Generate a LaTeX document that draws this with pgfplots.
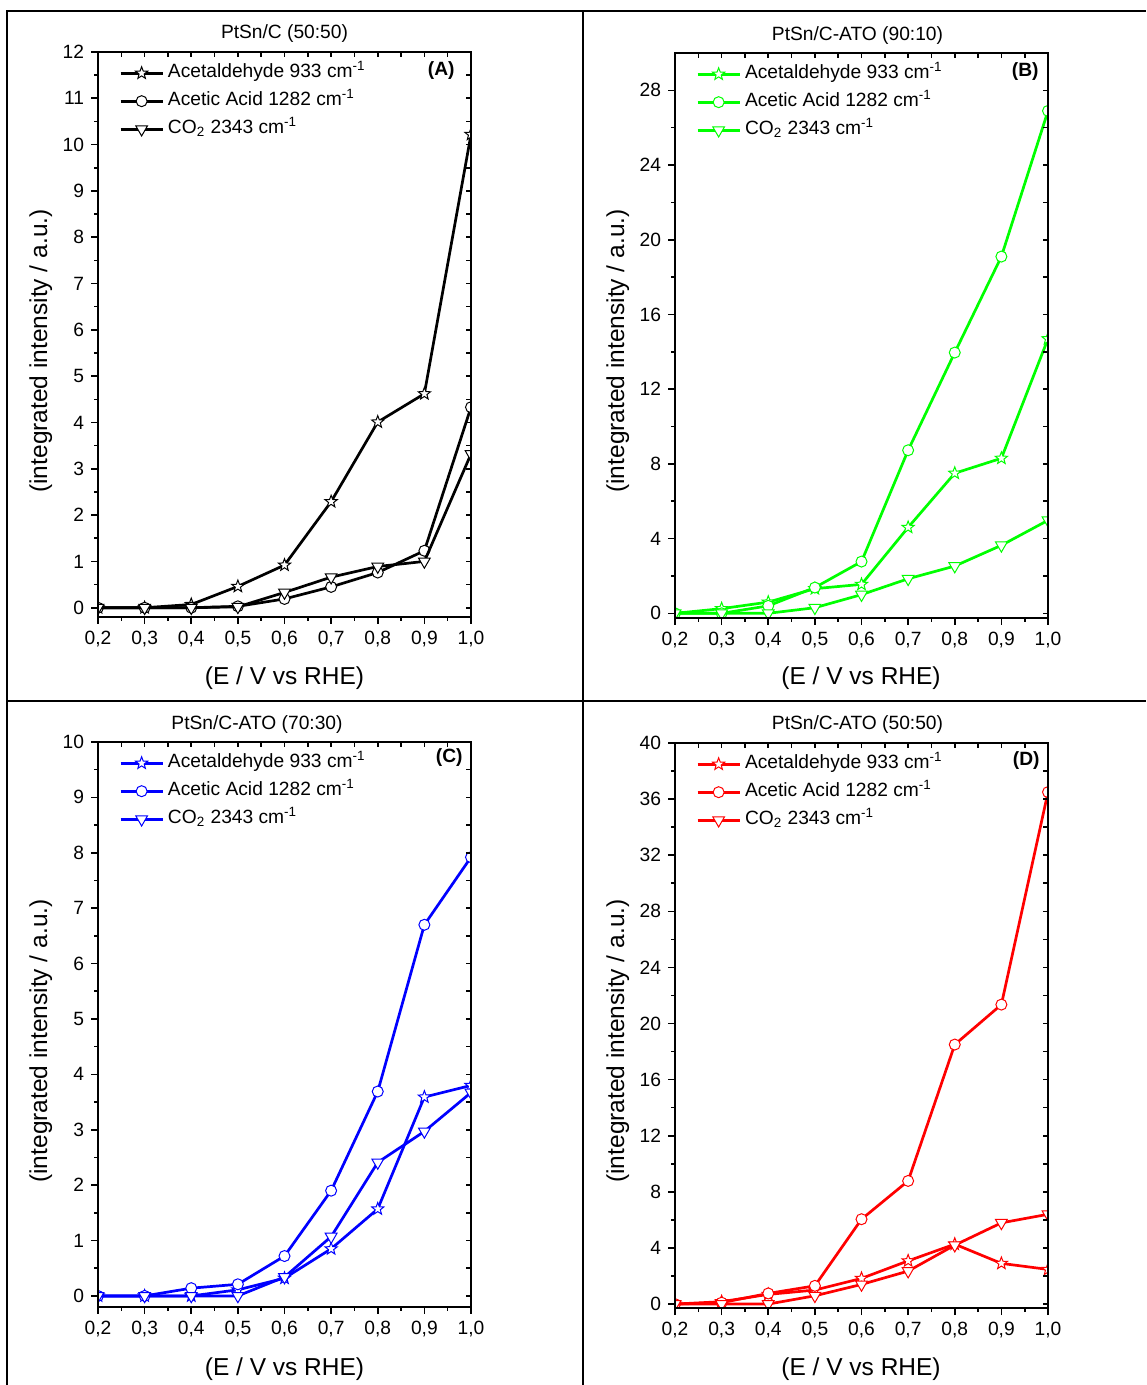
\documentclass[border=0pt]{standalone}
\usepackage{fontspec}
\setmainfont{Liberation Sans}
\usepackage{pgfplots}
\usepackage{pgfplotstable}
\pgfplotsset{compat=1.18}

\newcommand\fs{\fontsize{9.6pt}{11pt}\selectfont}
\newcommand\fl{\fontsize{12.25pt}{14pt}\selectfont}

% open five-point star
\pgfdeclareplotmark{ostar}{%
  \pgfpathmoveto{\pgfpointpolar{90}{\pgfplotmarksize}}%
  \pgfpathlineto{\pgfpointpolar{126}{0.42\pgfplotmarksize}}%
  \pgfpathlineto{\pgfpointpolar{162}{\pgfplotmarksize}}%
  \pgfpathlineto{\pgfpointpolar{198}{0.42\pgfplotmarksize}}%
  \pgfpathlineto{\pgfpointpolar{234}{\pgfplotmarksize}}%
  \pgfpathlineto{\pgfpointpolar{270}{0.42\pgfplotmarksize}}%
  \pgfpathlineto{\pgfpointpolar{306}{\pgfplotmarksize}}%
  \pgfpathlineto{\pgfpointpolar{342}{0.42\pgfplotmarksize}}%
  \pgfpathlineto{\pgfpointpolar{18}{\pgfplotmarksize}}%
  \pgfpathlineto{\pgfpointpolar{54}{0.42\pgfplotmarksize}}%
  \pgfpathclose
  \pgfusepathqfillstroke
}

% x  acetaldehyde  acetic  co2
\pgfplotstableread{
x    ald    acid   co
0.2  0      0      0
0.3  0      0      0
0.4  0.07   0      0
0.5  0.46   0.03   0.02
0.6  0.92   0.19   0.33
0.7  2.29   0.45   0.66
0.8  4.01   0.76   0.89
0.9  4.62   1.23   1.00
1.0  10.22  4.33   3.32
}\tabA
\pgfplotstableread{
x    ald    acid   co
0.2  0      0      0
0.3  0.25   0      0
0.4  0.60   0.40   0
0.5  1.32   1.38   0.30
0.6  1.55   2.77   1.00
0.7  4.60   8.73   1.85
0.8  7.50   13.96  2.53
0.9  8.30   19.10  3.64
1.0  14.70  26.90  4.98
}\tabB
\pgfplotstableread{
x    ald    acid   co
0.2  0      0      0
0.3  0      0      0
0.4  0      0.14   0
0.5  0.11   0.21   0
0.6  0.32   0.72   0.34
0.7  0.85   1.90   1.07
0.8  1.57   3.69   2.41
0.9  3.59   6.70   2.97
1.0  3.80   7.92   3.67
}\tabC
\pgfplotstableread{
x    ald    acid   co
0.2  0      0      0
0.3  0.17   0.10   0
0.4  0.69   0.76   0
0.5  1.00   1.30   0.59
0.6  1.83   6.05   1.40
0.7  3.08   8.78   2.35
0.8  4.27   18.50  4.20
0.9  2.90   21.35  5.79
1.0  2.47   36.50  6.40
}\tabD

\pgfplotsset{
  panel/.style={
    scale only axis, width=186.5pt, height=282.5pt, anchor=south west,
    xmin=0.2, xmax=1.0,
    xtick={0.2,0.3,0.4,0.5,0.6,0.7,0.8,0.9,1.0},
    xticklabels={{0,2},{0,3},{0,4},{0,5},{0,6},{0,7},{0,8},{0,9},{1,0}},
    minor x tick num=1, minor y tick num=1,
    tick align=outside, xtick pos=left, ytick pos=left,
    major tick length=3.5pt, minor tick length=2pt,
    tick style={line width=0.8pt, black},
    axis line style={line width=0.9pt},
    tick label style={font=\fs},
    /pgf/number format/assume math mode=true,
    clip marker paths=true,
    legend cell align=left,
    legend image code/.code={\draw[mark repeat=2,mark phase=2] plot coordinates {(0pt,0pt) (10.5pt,0pt) (21pt,0pt)};},
    legend style={at={(0.056,0.98)}, anchor=north west, draw=none, fill=none,
      inner sep=0pt, row sep=4.5pt, font=\fs,
      nodes={inner ysep=0pt, inner xsep=2pt, text height=7pt, text depth=2.5pt}},
  },
  mirror/.style={xtick pos=right, ytick pos=right, tick align=inside,
    xticklabels={}, yticklabels={}, major tick length=2.5pt, minor tick length=2.5pt},
  sald/.style={color=#1, line width=1.35pt, mark=ostar, mark size=3.2pt,
    mark options={solid, fill=white, line width=0.5pt}},
  sacid/.style={color=#1, line width=1.35pt, mark=*, mark size=2.75pt,
    mark options={solid, fill=white, line width=0.5pt}},
  sco/.style={color=#1, line width=1.35pt, mark=triangle*, mark size=3.4pt,
    mark options={solid, fill=white, line width=0.5pt, rotate=180}},
  pA/.style={ymin=-0.2, ymax=12, ytick={0,1,...,12}},
  pB/.style={ymin=-0.25, ymax=30, ytick={0,4,...,28}},
  pC/.style={ymin=-0.2, ymax=10, ytick={0,1,...,10}},
  pD/.style={ymin=-0.28, ymax=40, ytick={0,4,...,40}},
}

\newcommand\series[2]{%
  \addplot[sald=#2] table[x=x,y=ald] {#1};
  \addlegendentry{Acetaldehyde 933 cm\textsuperscript{-1}}
  \addplot[sacid=#2] table[x=x,y=acid] {#1};
  \addlegendentry{Acetic Acid 1282 cm\textsuperscript{-1}}
  \addplot[sco=#2] table[x=x,y=co] {#1};
  \addlegendentry{CO\textsubscript{2} 2343 cm\textsuperscript{-1}}
}

\begin{document}
\begin{tikzpicture}
\path[use as bounding box] (0,0) rectangle (573pt,692.5pt);
\draw[line width=0.8pt] (3.5pt,0) -- (3.5pt,687pt) -- (573pt,687pt);
\draw[line width=0.8pt] (291.5pt,0) -- (291.5pt,687pt);
\draw[line width=0.8pt] (3.5pt,342pt) -- (573pt,342pt);

% (A)
\begin{axis}[panel, pA, at={(49pt,384pt)}]
\series{\tabA}{black}
\end{axis}
\begin{axis}[panel, pA, mirror, at={(49pt,384pt)}]
\end{axis}

% (B)
\begin{axis}[panel, pB, at={(337.5pt,383.5pt)}]
\series{\tabB}{green}
\end{axis}
\begin{axis}[panel, pB, mirror, at={(337.5pt,383.5pt)}]
\end{axis}

% (C)
\begin{axis}[panel, pC, at={(49pt,39pt)}]
\series{\tabC}{blue}
\end{axis}
\begin{axis}[panel, pC, mirror, at={(49pt,39pt)}]
\end{axis}

% (D)
\begin{axis}[panel, pD, at={(337.5pt,38.5pt)}]
\series{\tabD}{red}
\end{axis}
\begin{axis}[panel, pD, mirror, at={(337.5pt,38.5pt)}]
\end{axis}

% titles, labels
\node[font=\fs, anchor=base] at (142.25pt,673pt) {PtSn/C (50:50)};
\node[font=\fs, anchor=base] at (428.75pt,672pt) {PtSn/C-ATO (90:10)};
\node[font=\fs, anchor=base] at (128.5pt,327.5pt) {PtSn/C-ATO (70:30)};
\node[font=\fs, anchor=base] at (428.75pt,327.5pt) {PtSn/C-ATO (50:50)};

\node[font=\fs\bfseries, anchor=base east, inner sep=0pt] at (227.5pt,654.5pt) {(A)};
\node[font=\fs\bfseries, anchor=base east, inner sep=0pt] at (519.5pt,654pt) {(B)};
\node[font=\fs\bfseries, anchor=base east, inner sep=0pt] at (231.5pt,311pt) {(C)};
\node[font=\fs\bfseries, anchor=base east, inner sep=0pt] at (520pt,309.5pt) {(D)};

\node[font=\fl, anchor=base] at (142.25pt,350pt) {(E / V vs RHE)};
\node[font=\fl, anchor=base] at (430.5pt,350pt) {(E / V vs RHE)};
\node[font=\fl, anchor=base] at (142.25pt,5pt) {(E / V vs RHE)};
\node[font=\fl, anchor=base] at (430.5pt,5pt) {(E / V vs RHE)};

\node[font=\fl, rotate=90, anchor=base] at (23.5pt,517pt) {(integrated intensity / a.u.)};
\node[font=\fl, rotate=90, anchor=base] at (312pt,517pt) {(integrated intensity / a.u.)};
\node[font=\fl, rotate=90, anchor=base] at (23.5pt,172pt) {(integrated intensity / a.u.)};
\node[font=\fl, rotate=90, anchor=base] at (312pt,172pt) {(integrated intensity / a.u.)};
\end{tikzpicture}
\end{document}
